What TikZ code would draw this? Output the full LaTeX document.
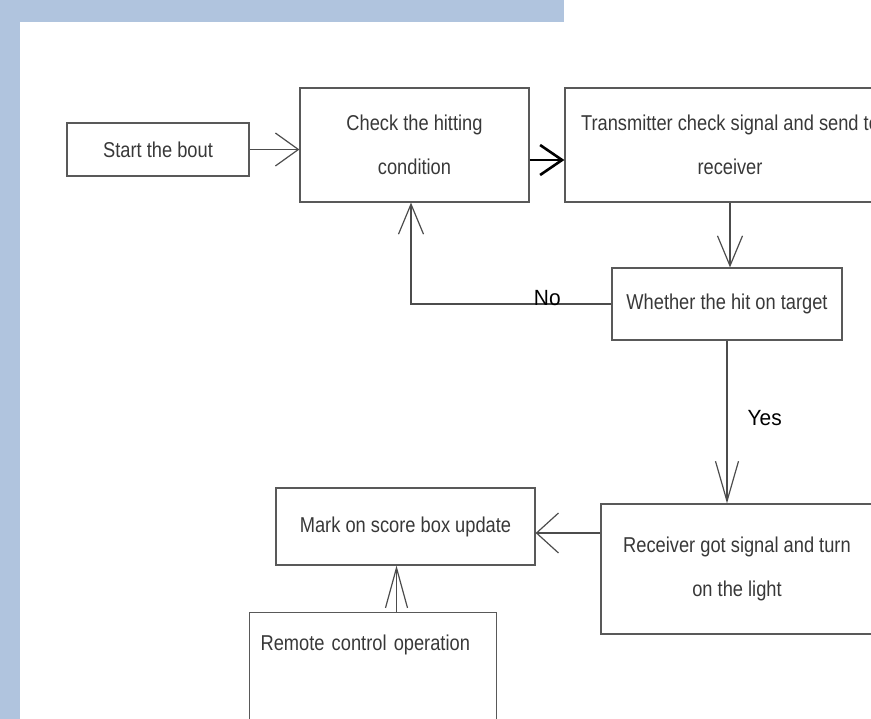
\documentclass[tikz,border=0pt]{standalone}
\usepackage[svgnames]{xcolor}
\usepackage{fontspec}
\setmainfont{Liberation Sans}[FakeStretch=0.85]
\newfontfamily\answerfont{Liberation Sans}[FakeStretch=0.95]
\usetikzlibrary{arrows.meta}

\begin{document}
\begin{tikzpicture}[x=1pt,y=-1pt]
        \tikzset{
            box/.style={draw=black!65, line width=1.2pt, text=black!78, inner sep=0pt,
                align=center, font=\fontsize{21.5}{44}\selectfont},
            flow/.style={draw=black!70, line width=1.2pt, -{Straight Barb[length=30pt,width=25pt]}},
            answer/.style={font=\answerfont\fontsize{22}{24}\selectfont, text=black, inner sep=0pt},
        }
        \clip (0,0) rectangle (871,719);
        % page frame
        \fill[LightSteelBlue] (0,0) rectangle (20,719);
        \fill[LightSteelBlue] (0,0) rectangle (564,22);

        \node[box, minimum width=182, minimum height=53] (start) at (158,149.5) {Start the bout};
        \node[box, minimum width=229, minimum height=114] (check) at (414.5,145) {Check the hitting\\condition};
        \node[box, minimum width=330, minimum height=114] (send) at (730,145) {Transmitter check signal and send to\\receiver};
        \node[box, minimum width=230, minimum height=72] (target) at (727,304) {Whether the hit on target};
        \node[box, minimum width=272, minimum height=130] (light) at (737,569) {Receiver got signal and turn\\on the light};
        \node[box, minimum width=259, minimum height=77] (score) at (405.5,526.5) {Mark on score box update};
        \node[box, anchor=north west, text width=225, align=left, inner xsep=11pt,
            text height=38pt, text depth=100pt] (remote) at (249,612) {Remote control operation};

        \draw[flow, -{Straight Barb[length=23pt,width=33pt]}] (start.east) -- (start.east -| check.west);
        \draw[draw=black, line width=2.6pt, -{Straight Barb[length=22pt,width=30pt]}]
            ([yshift=-15pt]check.east) -- ([yshift=-15pt]send.west);
        \draw[flow] (send.south) -- (send.south |- target.north);
        \draw[flow] (target.west) -| ([xshift=-3.5pt]check.south)
            node[answer, pos=0.16, yshift=6pt] {No};
        \draw[flow, -{Straight Barb[length=40pt,width=23pt]}] (target.south) -- (target.south |- light.north)
            node[answer, midway, right, xshift=20pt, yshift=4pt] {Yes};
        \coordinate (into) at ([yshift=-6.5pt]score.east);
        \draw[flow, -{Straight Barb[length=22pt,width=40pt]}] (into -| light.west) -- (into);
        \coordinate (up) at ([xshift=-9pt]score.south);
        \draw[flow, -{Straight Barb[length=40pt,width=22pt]}] (up |- remote.north) -- (up);
    \end{tikzpicture}
\end{document}
